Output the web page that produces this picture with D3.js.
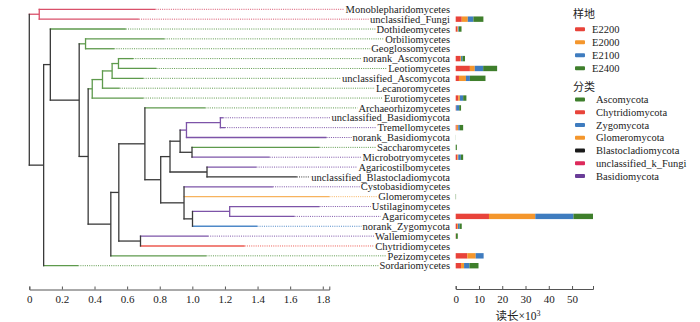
<!DOCTYPE html>
<html>
<head>
<meta charset="utf-8">
<script src="https://cdn.jsdelivr.net/npm/d3@7"></script>
<style>
  body { margin: 0; background: #fff; }
  svg { display: block; }
  text { font-family: "Liberation Serif", "Noto Sans CJK SC", serif; fill: #222; }
  .cjk { font-family: "Noto Sans CJK SC", sans-serif; }
  .axis path, .axis line { stroke: #555; }
</style>
</head>
<body>
<div class="visualization"></div>
<script>
const newick =
  "((Monoblepharidomycetes:0.713,unclassified_Fungi:0.611):0.061," +
  "((Dothideomycetes:0.463," +
  "((Orbiliomycetes:0.484,Geoglossomycetes:0.176):0.039," +
  "(" +
  "((((norank_Ascomycota:0.090,Leotiomycetes:0.233):0.039,unclassified_Ascomycota:0.192):0.059,Lecanoromycetes:0.105):0.063,Eurotiomycetes:0.314):0.025," +
  "(((Archaeorhizomycetes:0.371," +
  "(((((unclassified_Basidiomycota:0.018,Tremellomycetes:0.028):0.208,norank_Basidiomycota:0.859):0.039," +
  "(Saccharomycetes:0.782,Microbotryomycetes:0.476):0.073):0.062," +
  "(Agaricostilbomycetes:0.303,unclassified_Blastocladiomycota:0.551):0.227):0.057," +
  "(Cystobasidiomycetes:0.545,Glomeromycetes:0.892," +
  "((Ustilaginomycetes:0.551,Agaricomycetes:0.398):0.228,norank_Zygomycota:0.398):0.052):0.143" +
  "):0.097" +
  "):0.160," +
  "(Wallemiomycetes:0.414,Chytridiomycetes:0.639):0.133" +
  "):0.049,Pezizomycetes:0.586):0.139" +
  "):0.055" +
  "):0.177" +
  "):0.041,Sordariomycetes:0.212):0.088);";

const classes = ["Monoblepharidomycetes", "unclassified_Fungi", "Dothideomycetes", "Orbiliomycetes",
  "Geoglossomycetes", "norank_Ascomycota", "Leotiomycetes", "unclassified_Ascomycota", "Lecanoromycetes",
  "Eurotiomycetes", "Archaeorhizomycetes", "unclassified_Basidiomycota", "Tremellomycetes",
  "norank_Basidiomycota", "Saccharomycetes", "Microbotryomycetes", "Agaricostilbomycetes",
  "unclassified_Blastocladiomycota", "Cystobasidiomycetes", "Glomeromycetes", "Ustilaginomycetes",
  "Agaricomycetes", "norank_Zygomycota", "Wallemiomycetes", "Chytridiomycetes", "Pezizomycetes",
  "Sordariomycetes"];

const classPhylum = ["unclassified_k_Fungi", "unclassified_k_Fungi", "Ascomycota", "Ascomycota",
  "Ascomycota", "Ascomycota", "Ascomycota", "Ascomycota", "Ascomycota",
  "Ascomycota", "Ascomycota", "Basidiomycota", "Basidiomycota",
  "Basidiomycota", "Ascomycota", "Basidiomycota", "Basidiomycota",
  "Blastocladiomycota", "Basidiomycota", "Glomeromycota", "Basidiomycota",
  "Basidiomycota", "Zygomycota", "Basidiomycota", "Chytridiomycota", "Ascomycota",
  "Ascomycota"];

// reads per site, x10^3, same order as classes
const sites = ["E2200", "E2000", "E2100", "E2400"];
const e2200 = [0, 2.6, 0.7, 0, 0, 1.9, 6.1, 1.4, 0, 1.1, 0.2, 0, 0.4, 0, 0, 0.7, 0, 0, 0, 0, 0, 14.3, 0.6, 0.1, 0, 5.0, 2.3];
const e2000 = [0, 2.6, 0.4, 0, 0, 0.4, 2.1, 3.0, 0, 0.7, 0, 0, 0.7, 0, 0, 0.4, 0, 0, 0, 0, 0, 19.9, 0.4, 0, 0, 3.6, 1.3];
const e2100 = [0, 2.4, 0.3, 0, 0, 0.6, 3.6, 1.7, 0, 1.4, 1.3, 0, 0.7, 0, 0, 1.1, 0, 0, 0, 0, 0, 16.4, 0.7, 0, 0, 3.4, 2.3];
const e2400 = [0, 4.3, 1.1, 0, 0, 1.1, 6.0, 6.7, 0, 1.4, 0.8, 0, 1.4, 0.05, 0.5, 1.0, 0, 0, 0, 0.15, 0, 8.4, 0.9, 0.8, 0, 0, 3.9];

const phyla = ["Ascomycota", "Chytridiomycota", "Zygomycota", "Glomeromycota",
  "Blastocladiomycota", "unclassified_k_Fungi", "Basidiomycota"];

const treeTicks = [0, 0.2, 0.4, 0.6, 0.8, 1.0, 1.2, 1.4, 1.6, 1.8];
const barTicks = [0, 10, 20, 30, 40, 50];

const siteColor = d3.scaleOrdinal().domain(sites)
  .range(["#e8433a", "#f4962c", "#3f7cbf", "#3f7f2c"]);
const phylumColor = d3.scaleOrdinal().domain(phyla)
  .range(["#3f7f2c", "#e8433a", "#3f7cbf", "#f4962c", "#1a1a1a", "#dd2a5b", "#6a3d98"]);
const treeColor = d3.scaleOrdinal().domain(phyla)
  .range(["#5e9a4c", "#ec5a50", "#4f89c8", "#f7b35e", "#333", "#d9506a", "#7d54a8"]);

function parseNewick(s) {
  let i = 0;
  function node() {
    const n = { children: [] };
    if (s[i] === "(") {
      i++;
      n.children.push(node());
      while (s[i] === ",") { i++; n.children.push(node()); }
      i++;
    }
    let name = "";
    while (i < s.length && !",():;".includes(s[i])) name += s[i++];
    n.name = name;
    if (s[i] === ":") {
      i++;
      let len = "";
      while (i < s.length && !",();".includes(s[i])) len += s[i++];
      n.length = +len;
    }
    return n;
  }
  return node();
}

const width = 700, height = 322;
const svg = d3.select(".visualization").append("svg")
  .attr("width", width).attr("height", height);

const treeX = d3.scaleLinear().domain([0, 1.84]).range([29.3, 329.3]);
const rowY = d3.scalePoint().domain(classes).range([9.3, 265.7]);
const barX = d3.scaleLinear().domain([0, 59]).range([455.7, 593]);
const labelRight = 450;

const phylumOf = new Map(classes.map((c, i) => [c, classPhylum[i]]));

const root = d3.hierarchy(parseNewick(newick));
root.eachBefore(d => { d.dist = (d.parent ? d.parent.dist : 0) + (d.data.length || 0); });
root.eachAfter(d => {
  if (d.children) {
    d.y = (d.children[0].y + d.children[d.children.length - 1].y) / 2;
    const ps = new Set(d.leaves().map(l => phylumOf.get(l.data.name)));
    d.colour = ps.size === 1 ? treeColor([...ps][0]) : "#3a3a3a";
  } else {
    d.y = rowY(d.data.name);
    d.colour = treeColor(phylumOf.get(d.data.name));
  }
});

const tree = svg.append("g").attr("fill", "none").attr("stroke-width", 1.3);

// horizontal branches
tree.selectAll(".hbranch")
  .data(root.descendants().filter(d => d.parent))
  .enter().append("line")
  .attr("class", "hbranch")
  .attr("x1", d => treeX(d.parent.dist) - 0.6)
  .attr("x2", d => treeX(d.dist))
  .attr("y1", d => d.y).attr("y2", d => d.y)
  .attr("stroke", d => d.colour);

// vertical connectors
tree.selectAll(".vbranch")
  .data(root.descendants().filter(d => d.children))
  .enter().append("line")
  .attr("class", "vbranch")
  .attr("x1", d => treeX(d.dist)).attr("x2", d => treeX(d.dist))
  .attr("y1", d => d.children[0].y - 0.6)
  .attr("y2", d => d.children[d.children.length - 1].y + 0.6)
  .attr("stroke", d => d.colour);

// labels
const labels = svg.append("g").selectAll(".label")
  .data(root.leaves())
  .enter().append("text")
  .attr("class", "label")
  .attr("x", labelRight)
  .attr("y", d => d.y)
  .attr("dy", "0.35em")
  .attr("text-anchor", "end")
  .style("font-size", "10.5px")
  .text(d => d.data.name);

labels.each(function (d) { d.textStart = labelRight - this.getComputedTextLength() - 1; });

// dotted extensions from leaf to label
tree.selectAll(".dots")
  .data(root.leaves())
  .enter().append("line")
  .attr("class", "dots")
  .attr("x1", d => treeX(d.dist))
  .attr("x2", d => d.textStart)
  .attr("y1", d => d.y).attr("y2", d => d.y)
  .attr("stroke", d => d.colour)
  .attr("stroke-width", 1)
  .attr("stroke-dasharray", "1,1.2");

// tree axis
svg.append("g")
  .attr("class", "axis")
  .attr("transform", "translate(0,289.5)")
  .call(d3.axisBottom(treeX).tickValues(treeTicks).tickSize(-3).tickPadding(6)
    .tickFormat(d => d === 0 ? "0" : d3.format(".1f")(d)))
  .call(g => g.selectAll("text").style("font-size", "11px").attr("fill", "#333"));

// stacked bars
const barRows = classes.map((c, i) => ({
  name: c, E2200: e2200[i], E2000: e2000[i], E2100: e2100[i], E2400: e2400[i]
}));
const stack = d3.stack().keys(sites)(barRows);

svg.append("g").selectAll("g")
  .data(stack)
  .enter().append("g")
  .attr("fill", d => siteColor(d.key))
  .selectAll("rect")
  .data(d => d)
  .enter().append("rect")
  .attr("x", d => barX(d[0]))
  .attr("width", d => barX(d[1]) - barX(d[0]))
  .attr("y", d => rowY(d.data.name) - 2.7)
  .attr("height", 5.4);

svg.append("g")
  .attr("class", "axis")
  .attr("transform", "translate(0,289)")
  .call(d3.axisBottom(barX).tickValues(barTicks).tickSize(-3).tickPadding(6))
  .call(g => g.selectAll("text").style("font-size", "11px").attr("fill", "#333"));

const xLab = svg.append("text")
  .attr("x", 518).attr("y", 319.5)
  .attr("text-anchor", "middle")
  .style("font-size", "11.5px");
xLab.append("tspan").attr("class", "cjk").text("读长");
xLab.append("tspan").text("×10");
xLab.append("tspan").attr("dy", -4).style("font-size", "8px").text("3");

// legends
const legend = svg.append("g").attr("transform", "translate(573,0)");

legend.append("text").attr("class", "cjk").attr("x", 0).attr("y", 18)
  .style("font-size", "11px").text("样地");

const siteItems = legend.selectAll(".site")
  .data(sites).enter().append("g")
  .attr("transform", (d, i) => `translate(0,${29.3 + i * 13})`);
siteItems.append("rect").attr("x", 2).attr("y", -2).attr("width", 10).attr("height", 4)
  .attr("rx", 1).attr("fill", d => siteColor(d));
siteItems.append("text").attr("x", 19).attr("dy", "0.35em")
  .style("font-size", "10.5px").text(d => d);

legend.append("text").attr("class", "cjk").attr("x", 0).attr("y", 91)
  .style("font-size", "11px").text("分类");

const phylumItems = legend.selectAll(".phylum")
  .data(phyla).enter().append("g")
  .attr("transform", (d, i) => `translate(0,${99.5 + i * 12.75})`);
phylumItems.append("rect").attr("x", 2).attr("y", -2).attr("width", 10).attr("height", 4)
  .attr("rx", 1).attr("fill", d => phylumColor(d));
phylumItems.append("text").attr("x", 23).attr("dy", "0.35em")
  .style("font-size", "10.5px").text(d => d);
</script>
</body>
</html>
